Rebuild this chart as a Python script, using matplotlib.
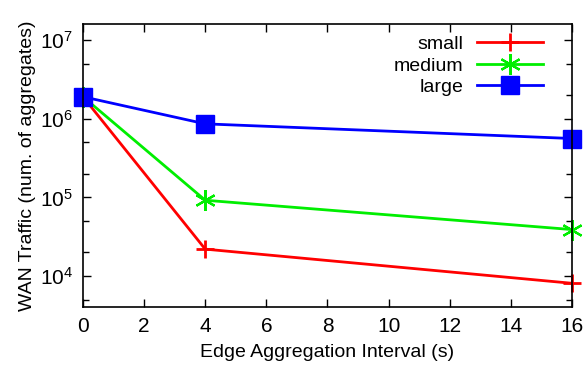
import matplotlib
matplotlib.use("Agg")
import matplotlib.pyplot as plt
from matplotlib.ticker import LogLocator, NullFormatter

plt.rcParams['font.family'] = ['Liberation Sans', 'DejaVu Sans']
plt.rcParams['mathtext.fontset'] = 'custom'
plt.rcParams['mathtext.rm'] = 'Liberation Sans'

# data
intervals = [0, 4, 16]
small = [1.9e6, 2.2e4, 8.1e3]
medium = [1.9e6, 9.2e4, 3.9e4]
large = [1.9e6, 8.6e5, 5.6e5]

fig = plt.figure(figsize=(5.86, 3.74), dpi=100)
ax = fig.add_axes([0.1416, 0.179, 0.8344, 0.757])

ax.plot(intervals, small, color='#ff0000', lw=2, marker='+', ms=13, mew=2,
        label='small', clip_on=False)
ax.plot(intervals, medium, color='#00ee00', lw=2, marker=(6, 2, 0), ms=15, mew=1.6,
        label='medium', clip_on=False)
ax.plot(intervals, large, color='#0000ff', lw=2, marker='s', ms=13,
        label='large', clip_on=False)

ax.set_yscale('log')
ax.set_xlim(0, 16)
ax.set_ylim(4.04e3, 1.6e7)
ax.set_xticks(range(0, 17, 2))
ax.yaxis.set_major_locator(LogLocator(base=10, numticks=10))
ax.yaxis.set_minor_locator(LogLocator(base=10, subs=[2, 5], numticks=10))
ax.yaxis.set_minor_formatter(NullFormatter())

ax.tick_params(which='both', direction='in', top=True, right=True,
               labelsize=15, width=1)
ax.tick_params(which='major', length=6, pad=7)
ax.tick_params(which='minor', length=4)
for s in ax.spines.values():
    s.set_linewidth(1.2)

ax.set_xlabel('Edge Aggregation Interval (s)', fontsize=14, labelpad=6)
ax.set_ylabel('WAN Traffic (num. of aggregates)', fontsize=14, labelpad=3)

ax.legend(loc='upper right', bbox_to_anchor=(0.965, 1.0), frameon=False,
          markerfirst=False, fontsize=14, handlelength=3.4, labelspacing=0.2,
          handletextpad=0.7, borderaxespad=0.2)

fig.savefig('out.png', dpi=100)
